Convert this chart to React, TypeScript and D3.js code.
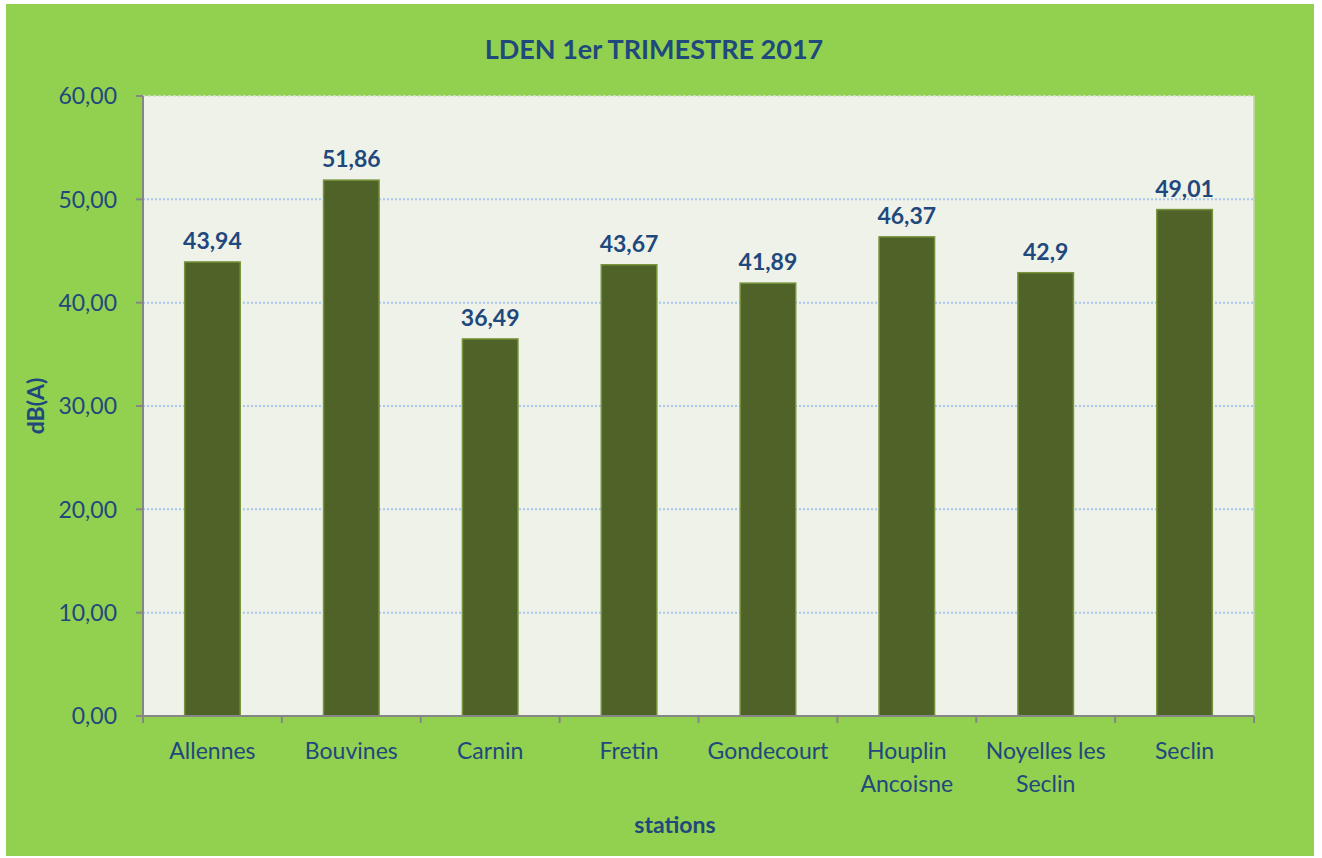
import React from "react";
import * as d3 from "d3";

const stations = ["Allennes", "Bouvines", "Carnin", "Fretin", "Gondecourt", "Houplin Ancoisne", "Noyelles les Seclin", "Seclin"];
const stationLines = [["Allennes"], ["Bouvines"], ["Carnin"], ["Fretin"], ["Gondecourt"], ["Houplin", "Ancoisne"], ["Noyelles les", "Seclin"], ["Seclin"]];
const values = [43.94, 51.86, 36.49, 43.67, 41.89, 46.37, 42.9, 49.01];
const valueLabels = ["43,94", "51,86", "36,49", "43,67", "41,89", "46,37", "42,9", "49,01"];
const yTicks = [0, 10, 20, 30, 40, 50, 60];

const W = 1322, H = 858;
const font = "Lato, 'Open Sans', sans-serif";
const blue = "#1f487c";

export default function App() {
  const left = 143, right = 1254, top = 96, bottom = 716;
  const x = d3.scaleBand<string>().domain(stations).range([left, right]).paddingInner(0.6).paddingOuter(0.3);
  const xb = d3.scaleBand<string>().domain(stations).range([left, right]);
  const y = d3.scaleLinear().domain([0, 60]).range([bottom, top]);
  const fmt = (v: number) => d3.format(".2f")(v).replace(".", ",");
  return (
    <svg width={W} height={H} style={{ position: "absolute", left: 0, top: 0, display: "block" }}>
      <rect x={0} y={0} width={W} height={H} fill="#ffffff" />
      <rect x={6} y={4} width={1308} height={852} fill="#92d050" />
      <rect x={left} y={top} width={right - left} height={bottom - top} fill="#eff2e9" />
      {yTicks.filter(t => t > 0 && t < 60).map(t => (
        <line key={t} x1={left} x2={right} y1={y(t)} y2={y(t)} stroke="#a9c6ee" strokeWidth={2} strokeDasharray="2,2" />
      ))}
      <line x1={left} x2={right} y1={top} y2={top} stroke="#d9ddd2" strokeWidth={1.5} strokeDasharray="3,2" />
      <line x1={right} x2={right} y1={top} y2={bottom} stroke="#c5d4a8" strokeWidth={1.5} />
      {stations.map((s, i) => (
        <rect key={s} x={x(s)} y={y(values[i])} width={x.bandwidth()} height={bottom - y(values[i])} fill="#4f6228" stroke="#77933c" strokeWidth={1.5} />
      ))}
      {stations.map((s, i) => (
        <text key={s} x={x(s)! + x.bandwidth() / 2} y={y(values[i]) - 13} textAnchor="middle" fontFamily={font} fontWeight={700} fontSize={23} fill={blue}>{valueLabels[i]}</text>
      ))}
      <line x1={left} x2={left} y1={top} y2={bottom} stroke="#868686" strokeWidth={2} />
      <line x1={left - 7} x2={right} y1={bottom} y2={bottom} stroke="#868686" strokeWidth={2} />
      {yTicks.map(t => (
        <g key={t}>
          <line x1={left - 7} x2={left} y1={y(t)} y2={y(t)} stroke="#868686" strokeWidth={2} />
          <text x={117} y={y(t)} dy="0.36em" textAnchor="end" fontFamily={font} fontSize={23} fill={blue}>{fmt(t)}</text>
        </g>
      ))}
      {stations.map(s => (
        <line key={s} x1={xb(s)} x2={xb(s)} y1={bottom} y2={bottom + 7} stroke="#868686" strokeWidth={2} />
      ))}
      <line x1={right} x2={right} y1={bottom} y2={bottom + 7} stroke="#868686" strokeWidth={2} />
      {stations.map((s, i) => (
        <text key={s} x={xb(s)! + xb.bandwidth() / 2} y={759} textAnchor="middle" fontFamily={font} fontSize={23} fill={blue}>
          {stationLines[i].map((l, j) => (
            <tspan key={j} x={xb(s)! + xb.bandwidth() / 2} dy={j === 0 ? 0 : 33}>{l}</tspan>
          ))}
        </text>
      ))}
      <text x={654} y={59} textAnchor="middle" fontFamily={font} fontWeight={700} fontSize={27} fill={blue}>LDEN 1er TRIMESTRE 2017</text>
      <text transform={`translate(44,406) rotate(-90)`} textAnchor="middle" fontFamily={font} fontWeight={700} fontSize={23} fill={blue}>dB(A)</text>
      <text x={675} y={833} textAnchor="middle" fontFamily={font} fontWeight={700} fontSize={23} fill={blue}>stations</text>
    </svg>
  );
}
